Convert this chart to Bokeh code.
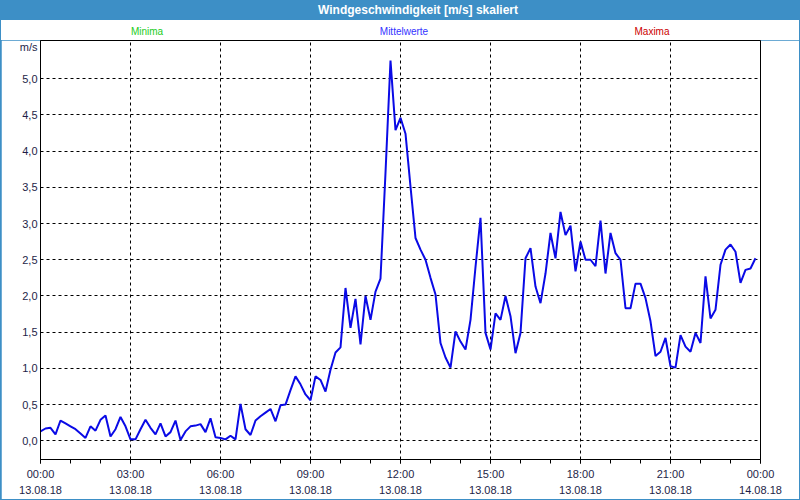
import numpy as np
from bokeh.plotting import figure
from bokeh.layouts import column
from bokeh.models import Range1d, FixedTicker, Div
from bokeh.embed import file_html
from bokeh.resources import INLINE

# wind speed, 10-minute means, 13.08.18 00:00 .. 23:50  [m/s]
wind = [
    0.13, 0.17, 0.18, 0.09, 0.28, 0.24, 0.20, 0.16, 0.10, 0.04, 0.20, 0.14,
    0.29, 0.35, 0.06, 0.16, 0.33, 0.20, 0.02, 0.02, 0.16, 0.29, 0.18, 0.09,
    0.24, 0.06, 0.12, 0.28, 0.01, 0.13, 0.20, 0.21, 0.23, 0.12, 0.31, 0.05,
    0.04, 0.02, 0.07, 0.02, 0.51, 0.16, 0.08, 0.28, 0.34, 0.39, 0.44, 0.27,
    0.49, 0.50, 0.70, 0.89, 0.78, 0.64, 0.56, 0.89, 0.84, 0.68, 0.98, 1.22,
    1.29, 2.11, 1.56, 1.96, 1.33, 2.00, 1.67, 2.06, 2.24, 3.70, 5.25, 4.29,
    4.46, 4.24, 3.51, 2.80, 2.64, 2.50, 2.25, 2.02, 1.35, 1.15, 1.01, 1.51,
    1.37, 1.26, 1.67, 2.40, 3.08, 1.49, 1.26, 1.76, 1.67, 2.00, 1.72, 1.21,
    1.49, 2.52, 2.66, 2.13, 1.90, 2.31, 2.87, 2.52, 3.16, 2.84, 2.97, 2.34,
    2.75, 2.50, 2.50, 2.41, 3.04, 2.31, 2.87, 2.59, 2.50, 1.83, 1.83, 2.17,
    2.17, 1.97, 1.65, 1.17, 1.23, 1.42, 1.03, 1.01, 1.46, 1.30, 1.23, 1.49,
    1.35, 2.27, 1.69, 1.81, 2.43, 2.64, 2.71, 2.61, 2.18, 2.36, 2.38, 2.52,
]
hours = np.arange(len(wind)) / 6.0  # 10-minute sampling grid

x_ticks = [0, 3, 6, 9, 12, 15, 18, 21, 24]
x_tick_labels = ["00:00\n13.08.18", "03:00\n13.08.18", "06:00\n13.08.18",
                 "09:00\n13.08.18", "12:00\n13.08.18", "15:00\n13.08.18",
                 "18:00\n13.08.18", "21:00\n13.08.18", "00:00\n14.08.18"]
x_minor = list(range(0, 25))
y_ticks = [0.0, 0.5, 1.0, 1.5, 2.0, 2.5, 3.0, 3.5, 4.0, 4.5, 5.0]
y_tick_labels = ["0,0", "0,5", "1,0", "1,5", "2,0", "2,5", "3,0", "3,5",
                 "4,0", "4,5", "5,0"]
unit_label = "m/s"
unit_pos = 5.445

title_text = "Windgeschwindigkeit [m/s] skaliert"
legend_names = ["Minima", "Mittelwerte", "Maxima"]
legend_colors = ["#22cc22", "#3333ff", "#cc0000"]

FONT = "Liberation Sans"
NAVY = "#1e1e48"
BAR = "#3d8fc6"

# ---- header: title bar + series names (HTML) ----
legend_centres = [146, 403, 651]
spans = "".join(
    f'<div style="position:absolute;left:{cx}px;top:26px;height:12px;'
    f'line-height:12px;transform:translateX(-50%);white-space:nowrap;'
    f'color:{col};font-size:10px;">{name}</div>'
    for name, col, cx in zip(legend_names, legend_colors, legend_centres))
header_html = (
    f'<div style="position:relative;width:798px;height:40px;background:#ffffff;'
    f'overflow:hidden;font-family:\'{FONT}\';margin:0;padding:0;">'
    f'<div style="position:absolute;left:0;top:0;width:798px;height:20px;'
    f'background:{BAR};"></div>'
    f'<div style="position:absolute;left:417px;top:0;height:20px;line-height:20px;'
    f'transform:translateX(-50%);white-space:nowrap;color:#ffffff;'
    f'font-weight:bold;font-size:12px;">{title_text}</div>'
    f'{spans}</div>')
h = Div(text=header_html, width=798, height=40, margin=(0, 1, 0, 1))

# ---- main chart ----
p = figure(width=798, height=459, output_backend="svg", toolbar_location=None,
           x_range=Range1d(0, 24), y_range=Range1d(-0.258, 5.527),
           min_border_left=39, min_border_right=39, min_border_top=0,
           min_border_bottom=39, margin=(0, 1, 1, 1))
p.background_fill_color = "white"
p.border_fill_color = "white"
p.outline_line_color = "black"
p.outline_line_width = 1

p.line(hours, wind, line_color="#0a0ae6", line_width=2)

p.xaxis.ticker = FixedTicker(ticks=x_ticks, minor_ticks=x_minor)
p.xaxis.major_label_overrides = dict(zip(x_ticks, x_tick_labels))
p.xaxis.major_tick_out = 4
p.xaxis.major_tick_in = 0
p.xaxis.minor_tick_out = 4
p.xaxis.minor_tick_in = 0
p.xaxis.major_label_standoff = 4
p.xaxis.major_label_text_font = FONT
p.xaxis.major_label_text_font_size = "11px"
p.xaxis.major_label_text_color = NAVY
p.xaxis.major_label_text_line_height = 1.4
p.xaxis.axis_line_color = "black"

p.yaxis.ticker = FixedTicker(ticks=y_ticks + [unit_pos])
p.yaxis.major_label_overrides = {**dict(zip(y_ticks, y_tick_labels)),
                                 unit_pos: unit_label}
p.yaxis.major_tick_out = 0
p.yaxis.major_tick_in = 0
p.yaxis.minor_tick_out = 0
p.yaxis.minor_tick_in = 0
p.yaxis.major_label_standoff = 3
p.yaxis.major_label_text_font = FONT
p.yaxis.major_label_text_font_size = "11px"
p.yaxis.major_label_text_color = NAVY
p.yaxis.axis_line_color = "black"

p.xgrid.ticker = FixedTicker(ticks=x_ticks[1:-1])
p.ygrid.ticker = FixedTicker(ticks=y_ticks)
for g in (p.xgrid, p.ygrid):
    g.grid_line_color = "black"
    g.grid_line_dash = "3 3"
    g.grid_line_width = 1

layout = column(h, p, spacing=0, styles={"background-color": BAR})
open("out.html", "w").write(file_html(layout, INLINE))
